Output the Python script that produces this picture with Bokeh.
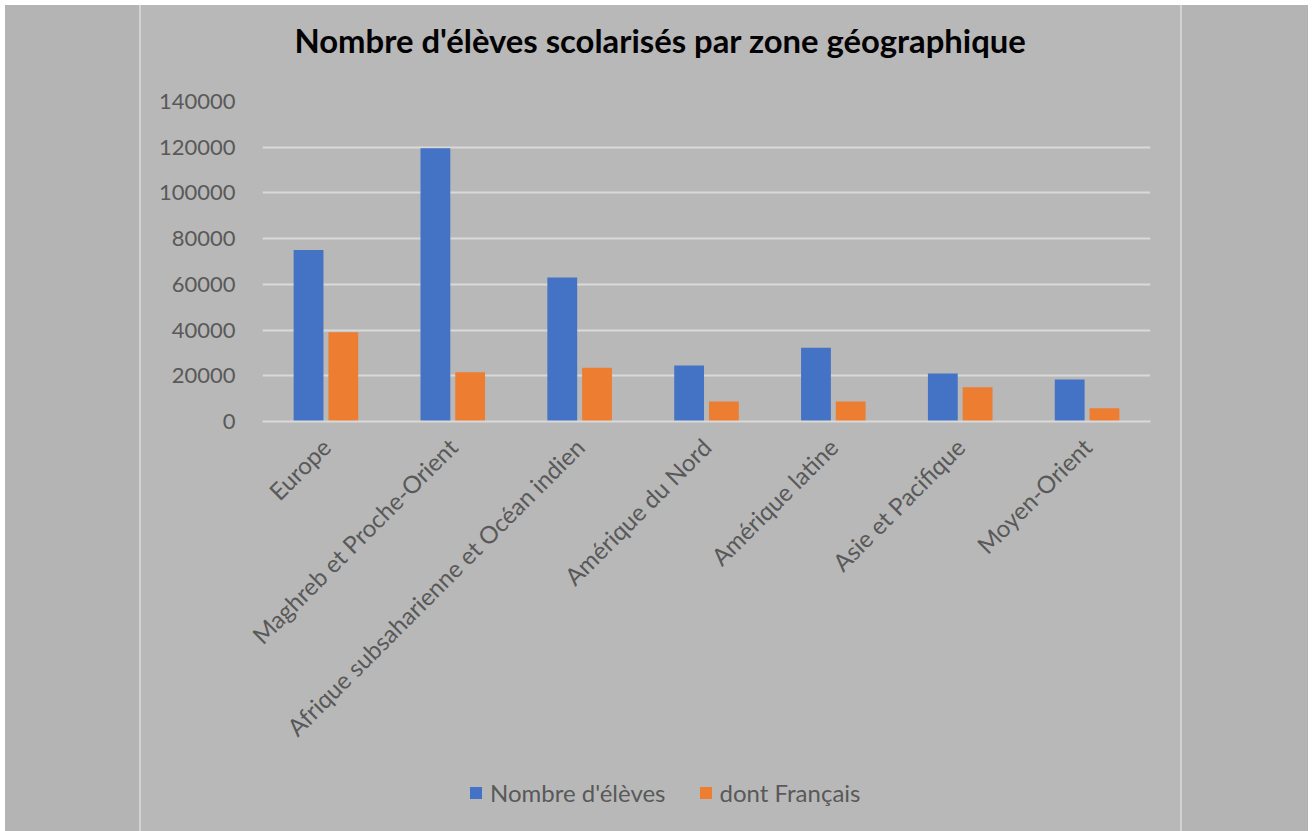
from math import pi
from bokeh.plotting import figure
from bokeh.models import (FactorRange, Range1d, FixedTicker, BasicTickFormatter,
                          Legend, LegendItem, ColumnDataSource, Spacer, Label)
from bokeh.transform import dodge
from bokeh.layouts import row, column
from bokeh.embed import file_html
from bokeh.resources import INLINE

categories = ["Europe", "Maghreb et Proche-Orient", "Afrique subsaharienne et Océan indien",
              "Amérique du Nord", "Amérique latine", "Asie et Pacifique", "Moyen-Orient"]
eleves = [75000, 119500, 63000, 24500, 32300, 21000, 18400]
francais = [39000, 21500, 23500, 8800, 8800, 15000, 5800]
y_ticks = [0, 20000, 40000, 60000, 80000, 100000, 120000, 140000]

title_text = "Nombre d'élèves scolarisés par zone géographique"
series_names = ["Nombre d'élèves", "dont Français"]

BLUE = "#4472C4"
ORANGE = "#ED7D31"
OUTER = "#b4b4b4"
INNER = "#b8b8b8"
LINE = "#d2d2d2"
GRID = "#d9d9d9"
TXT = "#595959"
FONT = "Lato"


def strip(height, yr):
    f = figure(x_range=Range1d(0, 888), y_range=Range1d(0, yr), width=1039, height=height,
               output_backend="svg", toolbar_location=None, title=None,
               min_border_left=121, min_border_right=30, min_border_top=0, min_border_bottom=0)
    f.axis.visible = False
    f.grid.visible = False
    f.background_fill_color = INNER
    f.border_fill_color = INNER
    f.outline_line_color = None
    return f


# title strip
tf = strip(80, 80)
tf.add_layout(Label(x=32, y=45, text=title_text, text_font=FONT, text_font_style="bold",
                    text_font_size="32.8px", text_color="#000000", text_baseline="alphabetic"))

# main chart
src = ColumnDataSource(dict(cat=categories, eleves=eleves, francais=francais))

p = figure(x_range=FactorRange(*categories), y_range=Range1d(0, 140000),
           width=1039, height=685, output_backend="svg", toolbar_location=None,
           title=None,
           min_border_left=121, min_border_right=30, min_border_top=16,
           min_border_bottom=349)
p.background_fill_color = INNER
p.border_fill_color = INNER
p.outline_line_color = None

r1 = p.vbar(x=dodge("cat", -0.137, range=p.x_range), top="eleves", width=0.235,
            source=src, fill_color=BLUE, line_color=None)
r2 = p.vbar(x=dodge("cat", 0.137, range=p.x_range), top="francais", width=0.235,
            source=src, fill_color=ORANGE, line_color=None)

p.xgrid.grid_line_color = None
p.ygrid.grid_line_color = GRID
p.ygrid.grid_line_width = 2

p.yaxis.ticker = FixedTicker(ticks=y_ticks)
p.yaxis.formatter = BasicTickFormatter(use_scientific=False)
p.yaxis.axis_line_color = None
p.yaxis.major_tick_line_color = None
p.yaxis.minor_tick_line_color = None
p.yaxis.major_label_standoff = 21
p.yaxis.major_label_text_font = FONT
p.yaxis.major_label_text_font_size = "22px"
p.yaxis.major_label_text_color = TXT

p.xaxis.axis_line_color = GRID
p.xaxis.axis_line_width = 2
p.xaxis.major_tick_line_color = None
p.xaxis.minor_tick_line_color = None
p.xaxis.major_label_orientation = pi / 4
p.xaxis.major_label_standoff = 15
p.xaxis.major_label_text_font = FONT
p.xaxis.major_label_text_font_size = "24px"
p.xaxis.major_label_text_color = TXT

# legend strip below the chart (swatch renderers lie outside the visible range)
lf = strip(61, 61)
swatch = ColumnDataSource(dict(x=[-100], top=[-100]))
l1 = lf.vbar(x="x", top="top", width=1, source=swatch, fill_color=BLUE, line_color=None)
l2 = lf.vbar(x="x", top="top", width=1, source=swatch, fill_color=ORANGE, line_color=None)

legend = Legend(items=[LegendItem(label=series_names[0], renderers=[l1]),
                       LegendItem(label=series_names[1], renderers=[l2])],
                location=(206, 24), orientation="horizontal")
legend.background_fill_alpha = 0
legend.border_line_color = None
legend.padding = 0
legend.margin = 0
legend.spacing = 32
legend.label_standoff = 7
legend.glyph_width = 15
legend.glyph_height = 15
legend.label_height = 24
legend.label_text_font = FONT
legend.label_text_font_size = "24px"
legend.label_text_color = TXT
lf.add_layout(legend, "center")

mid = column(tf, p, lf, spacing=0, styles={"background-color": INNER})

pad_left = Spacer(width=5, height=826)
left = Spacer(width=134, height=826, styles={"background-color": OUTER})
lline = Spacer(width=2, height=826, styles={"background-color": LINE})
rline = Spacer(width=2, height=826, styles={"background-color": LINE})
right = Spacer(width=126, height=826, styles={"background-color": OUTER})

layout = column(Spacer(width=1308, height=5),
                row(pad_left, left, lline, mid, rline, right, spacing=0),
                spacing=0)

open("out.html", "w").write(file_html(layout, INLINE))
